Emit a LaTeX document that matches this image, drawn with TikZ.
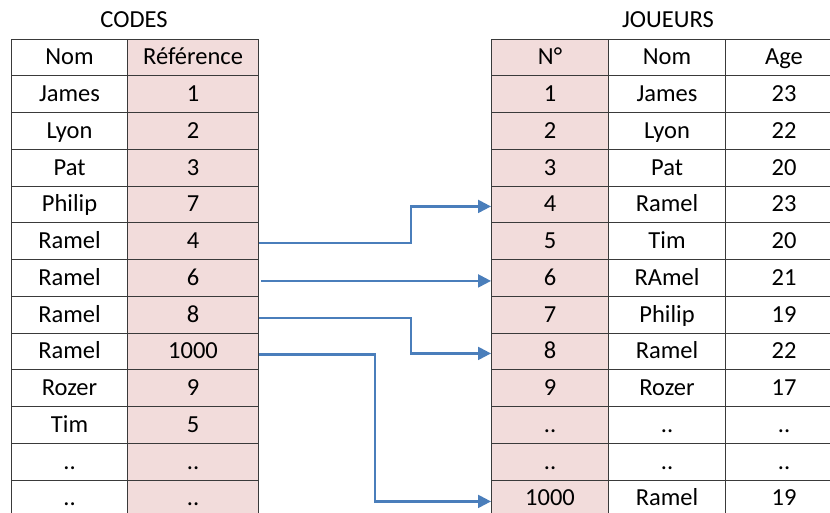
\documentclass[tikz,border=0pt]{standalone}
\usepackage{fontspec}
\setmainfont{Carlito}
\usetikzlibrary{arrows.meta}
\definecolor{cellpink}{HTML}{F2DCDB}
\definecolor{gridline}{HTML}{3A3A3A}
\definecolor{arrowblue}{HTML}{4A7EBB}
\tikzset{
  cell/.style={draw=gridline, line width=1.1pt, inner sep=0pt, anchor=north west,
    minimum height=36.75pt, text height=16pt, text depth=1pt,
    font=\fontsize{24.5}{26}\selectfont},
  pinkcell/.style={cell, fill=cellpink},
  title/.style={inner sep=0pt, font=\fontsize{24.5}{26}\selectfont, text height=16pt, text depth=1pt},
  link/.style={draw=arrowblue, line width=2.2pt, -{Triangle[length=13pt,width=13pt]}}
}
\begin{document}
\begin{tikzpicture}[x=1pt,y=-1pt]
\useasboundingbox (0,0) rectangle (830,512);
% left table CODES
\node[title] (tcodes) at (134,20) {CODES};
\foreach \r/\a [count=\i from 0] in {Nom/Référence, James/1, Lyon/2, Pat/3, Philip/7, Ramel/4, Ramel/6, Ramel/8, Ramel/1000, Rozer/9, Tim/5, ../.., ../..} {
  \node[cell, minimum width=116pt] (L-\i-1) at (11, 38.5+36.75*\i) {\r};
  \node[pinkcell, minimum width=131pt] (L-\i-2) at (127, 38.5+36.75*\i) {\a};
}
% right table JOUEURS
\node[title] (tjoueurs) at (668,20) {JOUEURS};
\foreach \a/\b/\c [count=\i from 0] in {N°/Nom/Age, 1/James/23, 2/Lyon/22, 3/Pat/20, 4/Ramel/23, 5/Tim/20, 6/RAmel/21, 7/Philip/19, 8/Ramel/22, 9/Rozer/17, ../../.., ../../.., 1000/Ramel/19} {
  \node[pinkcell, minimum width=117pt] (R-\i-1) at (491, 38.5+36.75*\i) {\a};
  \node[cell, minimum width=117pt] (R-\i-2) at (608, 38.5+36.75*\i) {\b};
  \node[cell, minimum width=117pt] (R-\i-3) at (725, 38.5+36.75*\i) {\c};
}
% connectors
\coordinate (b1) at (411,0);
\coordinate (b3) at (411,0);
\coordinate (b4) at (375,0);
\draw[link] ([yshift=-2pt]L-5-2.east) -| ([yshift=-2pt]b1 |- R-4-1.west) -- ([yshift=-2pt]R-4-1.west);
\draw[link] ([xshift=2pt,yshift=-3pt]L-6-2.east) -- ([yshift=-3pt]R-6-1.west);
\draw[link] ([yshift=-3pt]L-7-2.east) -| ([yshift=-2pt]b3 |- R-8-1.west) -- ([yshift=-2pt]R-8-1.west);
\draw[link] ([yshift=-3pt]L-8-2.east) -| ([yshift=-3pt]b4 |- R-12-1.west) -- ([yshift=-3pt]R-12-1.west);
\end{tikzpicture}
\end{document}
